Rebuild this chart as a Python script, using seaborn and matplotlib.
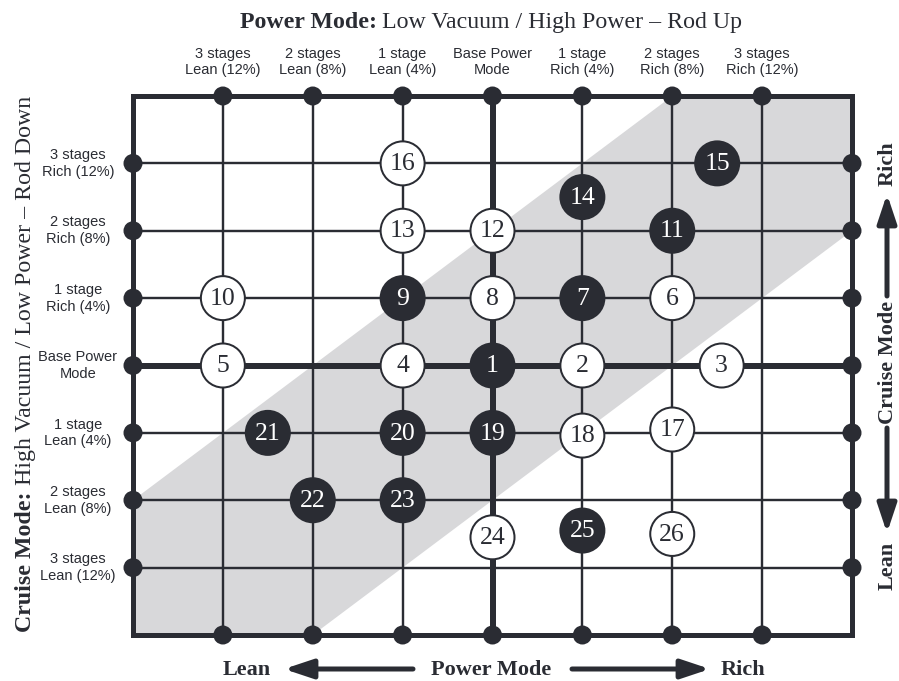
import matplotlib
matplotlib.use("Agg")
import matplotlib.pyplot as plt
from matplotlib import font_manager
from matplotlib.patches import Rectangle, Polygon, FancyArrowPatch, ArrowStyle
import seaborn as sns
import pandas as pd

# ---------------- data ----------------
grid_levels = [-3, -2, -1, 0, 1, 2, 3]
col_labels = ["3 stages\nLean (12%)", "2 stages\nLean (8%)", "1 stage\nLean (4%)",
              "Base Power\nMode", "1 stage\nRich (4%)", "2 stages\nRich (8%)",
              "3 stages\nRich (12%)"]
row_labels = ["3 stages\nLean (12%)", "2 stages\nLean (8%)", "1 stage\nLean (4%)",
              "Base Power\nMode", "1 stage\nRich (4%)", "2 stages\nRich (8%)",
              "3 stages\nRich (12%)"]  # bottom -> top
point_ids = list(range(1, 27))
point_x = [0, 1, 2.55, -1, -3, 2, 1, 0, -1, -3, 2, 0, -1, 1, 2.5, -1, 2, 1, 0, -1,
           -2.5, -2, -1, 0, 1, 2]
point_y = [0, 0, 0, 0, 0, 1, 1, 1, 1, 1, 2, 2, 2, 2.5, 3, 3, -0.95, -1.04, -1, -1,
           -1, -2, -2, -2.55, -2.45, -2.5]
point_kind = ["dark", "light", "light", "light", "light", "light", "dark", "light",
              "dark", "light", "dark", "light", "light", "dark", "dark", "light",
              "light", "light", "dark", "dark", "dark", "dark", "dark", "light",
              "dark", "light"]
frame_limit = 4
band_half_width = 2  # gray diagonal band: |y - x| <= 2

DARK = "#2a2c33"
GRAY = "#d8d8da"

names = {f.name for f in font_manager.fontManager.ttflist}
SANS = "Liberation Sans Narrow" if "Liberation Sans Narrow" in names else "Liberation Sans"
SERIF = "Liberation Serif"

sns.set_theme(style="white")
plt.rcParams["font.family"] = [SERIF, "DejaVu Serif"]

W, H = 899, 681
fig = plt.figure(figsize=(W / 100, H / 100), dpi=100)
L, R, T, B = 133, 852, 96, 635
ax = fig.add_axes([L / W, 1 - B / H, (R - L) / W, (B - T) / H])
ax.set_xlim(-frame_limit, frame_limit)
ax.set_ylim(-frame_limit, frame_limit)
ax.axis("off")

def px(v):
    return v * 0.72

# gray band
f, b = frame_limit, band_half_width
band = Polygon([(-f, -f), (-f + b, -f), (f, f - b), (f, f), (f - b, f), (-f, -f + b)],
               closed=True, facecolor=GRAY, edgecolor="none", zorder=0)
ax.add_patch(band)

# grid lines
for g in grid_levels:
    lw = px(6) if g == 0 else px(2.4)
    ax.plot([g, g], [-f, f], color=DARK, lw=lw, zorder=1, solid_capstyle="butt")
    ax.plot([-f, f], [g, g], color=DARK, lw=lw, zorder=1, solid_capstyle="butt")

# frame
ax.add_patch(Rectangle((-f, -f), 2 * f, 2 * f, fill=False, edgecolor=DARK,
                       lw=px(5), zorder=2, clip_on=False, joinstyle="miter"))

# edge dots
edge = pd.DataFrame({
    "x": grid_levels + grid_levels + [-f] * 7 + [f] * 7,
    "y": [f] * 7 + [-f] * 7 + grid_levels + grid_levels,
})
sns.scatterplot(data=edge, x="x", y="y", ax=ax, s=px(19) ** 2, color=DARK,
                edgecolor="none", zorder=3, clip_on=False, legend=False)

# numbered circles
pts = pd.DataFrame({"id": point_ids, "x": point_x, "y": point_y, "kind": point_kind})
sns.scatterplot(data=pts, x="x", y="y", hue="kind", ax=ax,
                palette={"dark": DARK, "light": "white"}, s=px(44) ** 2,
                edgecolor=DARK, linewidth=px(2), zorder=4, legend=False)
for _, r in pts.iterrows():
    ax.text(r["x"], r["y"] - 0.01, str(r["id"]), ha="center", va="center",
            fontsize=18.5, family=SERIF,
            color="white" if r["kind"] == "dark" else DARK, zorder=5)
ax.set_xlim(-frame_limit, frame_limit)
ax.set_ylim(-frame_limit, frame_limit)
ax.set_xlabel("")
ax.set_ylabel("")

# column labels (top) and row labels (left)
for g, lab in zip(grid_levels, col_labels):
    xf = (L + (g + f) / (2 * f) * (R - L)) / W
    fig.text(xf, 1 - 62 / H, lab, ha="center", va="center", fontsize=10.5,
             family=SANS, color=DARK, linespacing=1.25)
for g, lab in zip(grid_levels, row_labels):
    yf = 1 - (B - (g + f) / (2 * f) * (B - T)) / H
    fig.text(78 / W, yf, lab, ha="center", va="center", fontsize=10.5,
             family=SANS, color=DARK, linespacing=1.25)

renderer = fig.canvas.get_renderer()

def mixed(parts, cx, cy, size, rotation=0):
    # parts: list of (text, weight); (cx, cy) = baseline center in pixels from top-left
    objs, widths = [], []
    gap = size * 100 / 72 * 0.25
    for s, w in parts:
        t = fig.text(0, 0, s, fontsize=size, fontweight=w, family=SERIF, color=DARK,
                     rotation=rotation, ha="left", va="baseline",
                     rotation_mode="anchor")
        bb = t.get_window_extent(renderer)
        widths.append(bb.width if rotation == 0 else bb.height)
        objs.append(t)
    total = sum(widths) + gap * (len(parts) - 1)
    pos = -total / 2
    for t, w in zip(objs, widths):
        if rotation == 0:
            t.set_position(((cx + pos) / W, 1 - cy / H))
        else:
            t.set_position((cx / W, 1 - (cy - pos) / H))
        pos += w + gap

mixed([("Power Mode:", "bold"), ("Low Vacuum / High Power \u2013 Rod Up", "normal")],
      491, 28, 17.2)
mixed([("Cruise Mode:", "bold"), ("High Vacuum / Low Power \u2013 Rod Down", "normal")],
      31, 364, 17.2, rotation=90)

def ftext(x, y, s, rot=0):
    fig.text(x / W, 1 - y / H, s, ha="center", va="baseline", fontsize=16,
             fontweight="bold", family=SERIF, color=DARK, rotation=rot,
             rotation_mode="anchor")

def farrow(x0, y0, x1, y1):
    a = FancyArrowPatch((x0 / W, 1 - y0 / H), (x1 / W, 1 - y1 / H),
                        transform=fig.transFigure,
                        arrowstyle=ArrowStyle("-|>", head_length=px(24), head_width=px(8)),
                        mutation_scale=1, lw=px(5), color=DARK, shrinkA=0, shrinkB=0)
    fig.add_artist(a)

ftext(247, 675, "Lean")
farrow(413, 669, 284, 669)
ftext(491, 675, "Power Mode")
farrow(572, 669, 710, 669)
ftext(743, 675, "Rich")

ftext(893, 164, "Rich", rot=90)
farrow(887, 296, 887, 194)
ftext(893, 362, "Cruise Mode", rot=90)
farrow(887, 428, 887, 533)
ftext(893, 566, "Lean", rot=90)

fig.savefig("out.png", dpi=100)
